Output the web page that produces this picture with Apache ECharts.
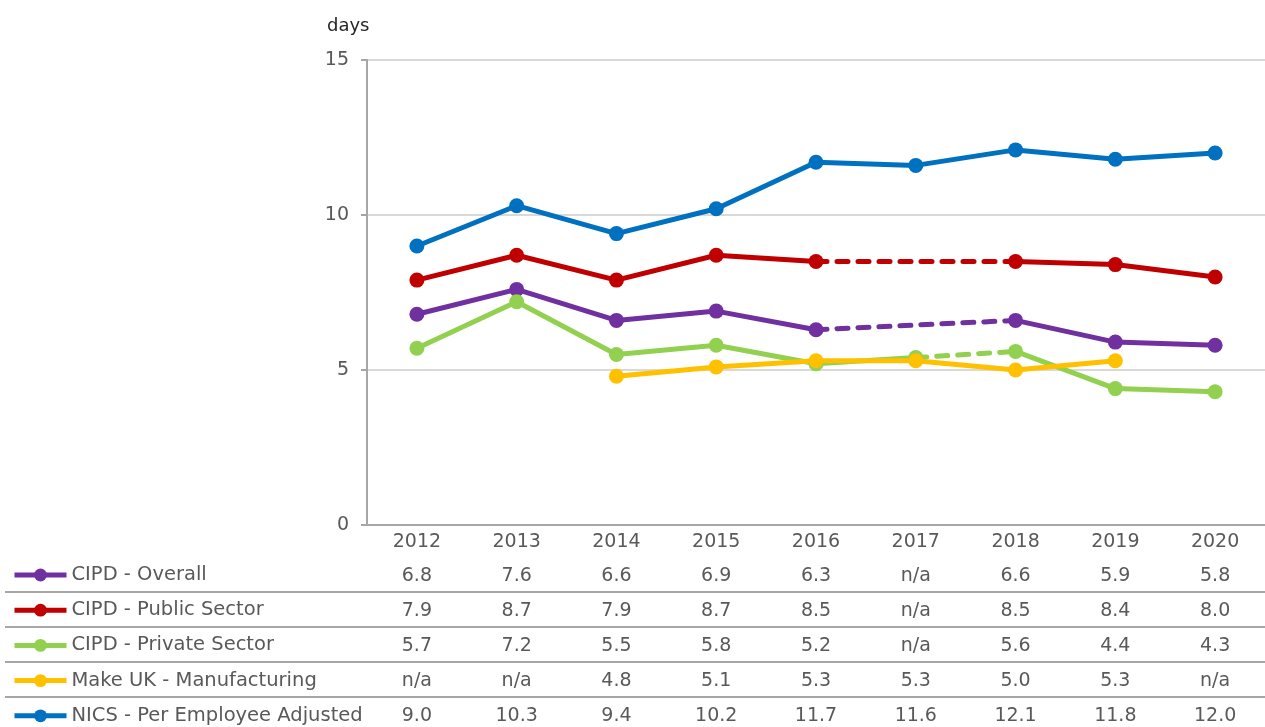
<!DOCTYPE html>
<html>
<head>
<meta charset="utf-8">
<script src="https://cdn.jsdelivr.net/npm/echarts@6/dist/echarts.min.js"></script>
<style>
  html, body { margin: 0; padding: 0; background: #fff; }
  #chart { width: 1265px; height: 727px; }
</style>
</head>
<body>
<div id="chart"></div>
<script>
// categories
const years = ['2012', '2013', '2014', '2015', '2016', '2017', '2018', '2019', '2020']
const yTicks = [0, 5, 10, 15]

// table values (null = n/a)
const cipdOverall = [6.8, 7.6, 6.6, 6.9, 6.3, null, 6.6, 5.9, 5.8]
const cipdPublic = [7.9, 8.7, 7.9, 8.7, 8.5, null, 8.5, 8.4, 8.0]
const cipdPrivate = [5.7, 7.2, 5.5, 5.8, 5.2, null, 5.6, 4.4, 4.3]
const makeUK = [null, null, 4.8, 5.1, 5.3, 5.3, 5.0, 5.3, null]
const nics = [9.0, 10.3, 9.4, 10.2, 11.7, 11.6, 12.1, 11.8, 12.0]

// point plotted on the chart for private sector 2017 (shown as n/a in table)
const privatePlot2017 = 5.4

const names = ['CIPD - Overall', 'CIPD - Public Sector', 'CIPD - Private Sector', 'Make UK - Manufacturing', 'NICS - Per Employee Adjusted']
const colors = ['#7030A0', '#C00000', '#92D050', '#FFC000', '#0070C0']
const rows = [cipdOverall, cipdPublic, cipdPrivate, makeUK, nics]

const FONT = 'DejaVu Sans'
const TXT = '#595959'

// keep only values inside [from, to]
function segment(arr, from, to) {
  return arr.map((v, i) => (i >= from && i <= to && v != null ? v : '-'))
}

function solid(name, color, data) {
  return {
    name: name,
    type: 'line',
    data: data,
    symbol: 'circle',
    symbolSize: 15,
    connectNulls: false,
    lineStyle: { width: 5, color: color },
    itemStyle: { color: color },
    emphasis: { disabled: true },
    animation: false
  }
}

function dashed(name, color, data) {
  return {
    name: name + ' (est)',
    type: 'line',
    data: data,
    showSymbol: false,
    connectNulls: true,
    lineStyle: { width: 5, color: color, type: [11, 10], cap: 'round' },
    itemStyle: { color: color },
    emphasis: { disabled: true },
    animation: false
  }
}

const privateFull = cipdPrivate.slice()
privateFull[5] = privatePlot2017

const series = [
  // overall
  dashed(names[0], colors[0], segment(cipdOverall, 4, 6)),
  solid(names[0], colors[0], cipdOverall.map(v => (v == null ? '-' : v))),
  // public
  dashed(names[1], colors[1], segment(cipdPublic, 4, 6)),
  solid(names[1], colors[1], cipdPublic.map(v => (v == null ? '-' : v))),
  // private
  dashed(names[2], colors[2], segment(privateFull, 5, 6)),
  solid(names[2], colors[2], segment(privateFull, 0, 5)),
  solid(names[2], colors[2], segment(privateFull, 6, 8)),
  // make uk
  solid(names[3], colors[3], makeUK.map(v => (v == null ? '-' : v))),
  // nics
  solid(names[4], colors[4], nics)
]

// extra category axes used as table rows
const rowOffsets = [34, 69, 104, 139, 174]
const xAxes = [{
  type: 'category',
  data: years,
  boundaryGap: true,
  axisLine: { lineStyle: { color: '#a6a6a6', width: 2 } },
  axisTick: { show: false },
  axisLabel: { color: TXT, fontFamily: FONT, fontSize: 19, margin: 8, interval: 0 }
}]
rows.forEach((row, r) => {
  xAxes.push({
    type: 'category',
    data: years,
    position: 'bottom',
    offset: rowOffsets[r],
    axisLine: { show: false },
    axisTick: { show: false },
    axisLabel: {
      color: TXT, fontFamily: FONT, fontSize: 19, margin: 8, interval: 0,
      formatter: (v, i) => (row[i] == null ? 'n/a' : row[i].toFixed(1))
    }
  })
})

// separator lines between table rows
const sepY = [592, 627, 662, 697]
const graphics = sepY.map(y => ({
  type: 'line',
  shape: { x1: 5, y1: y, x2: 1265, y2: y },
  style: { stroke: '#a6a6a6', lineWidth: 2 },
  silent: true
}))

const chart = echarts.init(document.getElementById('chart'))
chart.setOption({
  backgroundColor: '#fff',
  animation: false,
  title: {
    text: 'days',
    left: 322,
    top: 12,
    textStyle: { color: '#262626', fontFamily: FONT, fontSize: 18, fontWeight: 'normal' }
  },
  grid: { left: 367, right: -6, top: 60, bottom: 202, containLabel: false },
  legend: {
    data: names,
    orient: 'vertical',
    left: 12,
    top: 565,
    padding: 0,
    itemGap: 15.2,
    itemWidth: 52,
    itemHeight: 16,
    lineStyle: { width: 5 },
    textStyle: { color: TXT, fontFamily: FONT, fontSize: 19.5, padding: [0, 0, 0, 0] },
    selectedMode: false
  },
  xAxis: xAxes,
  yAxis: {
    type: 'value',
    min: yTicks[0],
    max: yTicks[yTicks.length - 1],
    interval: 5,
    axisLine: { show: true, lineStyle: { color: '#a6a6a6', width: 2 } },
    axisTick: { show: true, length: 6, lineStyle: { color: '#a6a6a6', width: 2 } },
    axisLabel: { color: TXT, fontFamily: FONT, fontSize: 19, margin: 18 },
    splitLine: { lineStyle: { color: '#d9d9d9', width: 2 } }
  },
  series: series,
  graphic: graphics
})
</script>
</body>
</html>
